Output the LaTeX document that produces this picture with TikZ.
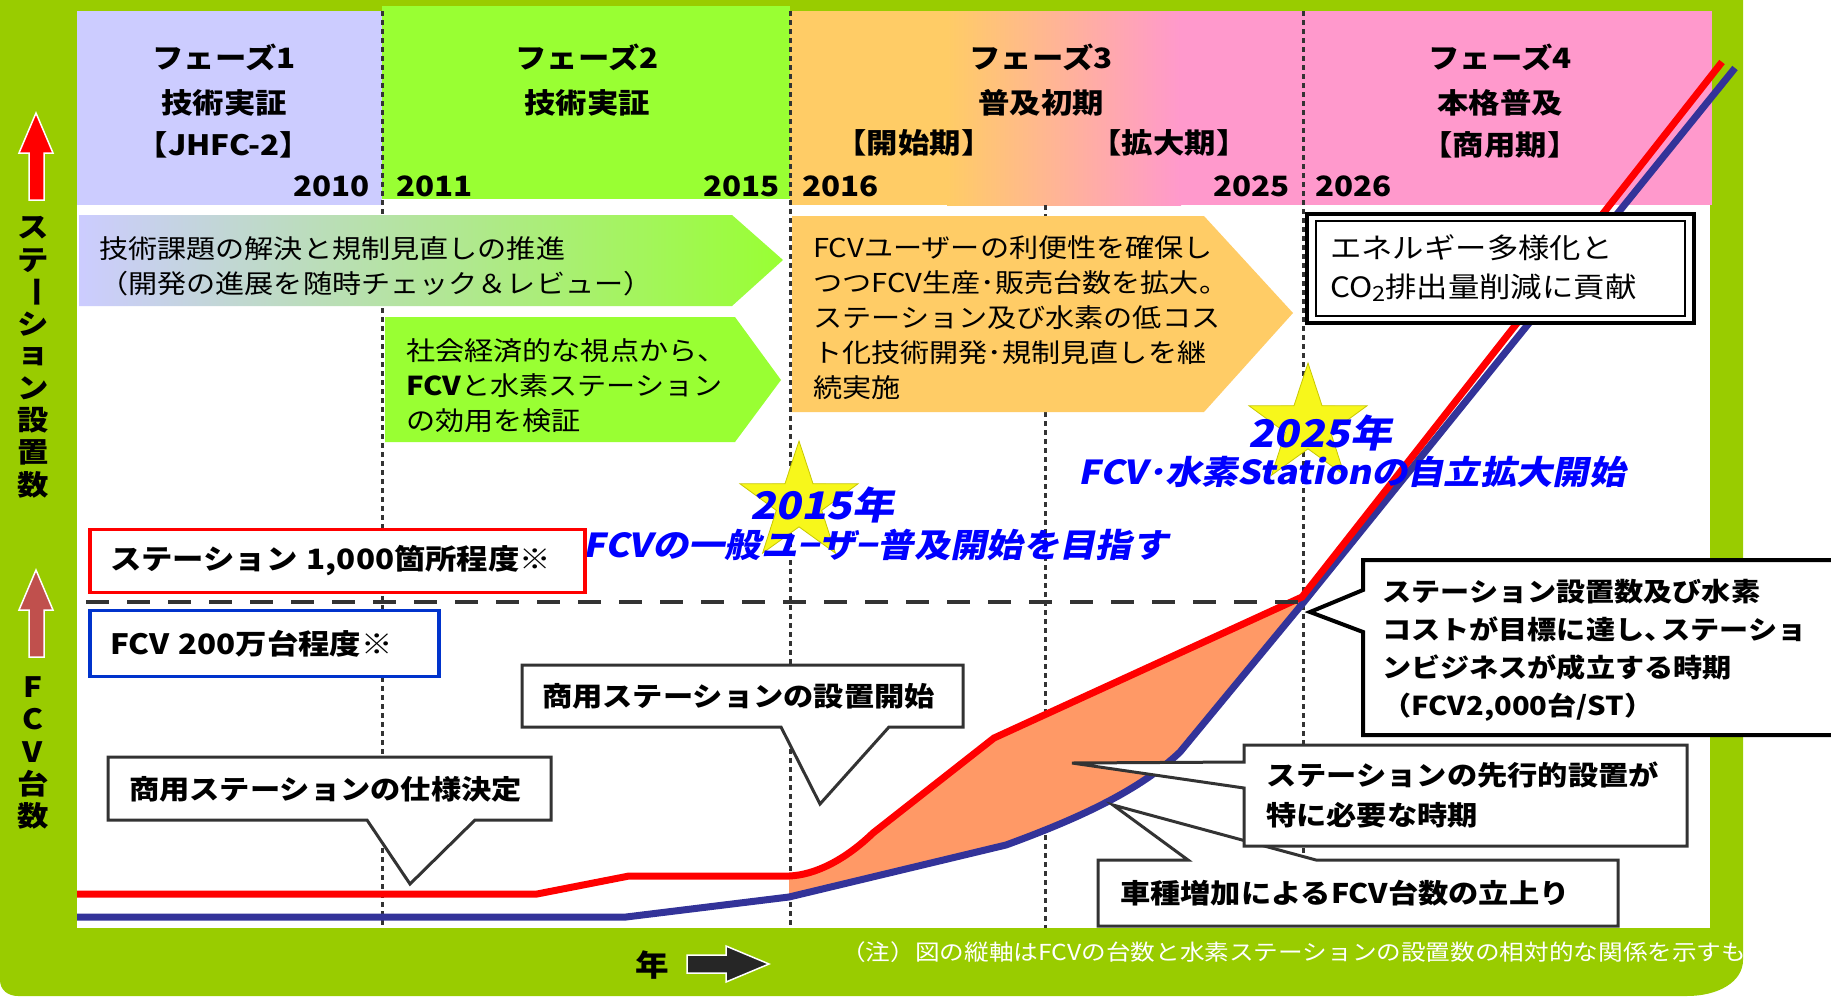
\documentclass[tikz,border=0pt]{standalone}
\usepackage{fontspec}
\usetikzlibrary{shapes.geometric}
\newfontfamily\jp[FakeStretch=1.12]{Noto Sans CJK JP}
\newfontfamily\jpi[FakeStretch=1.1,FakeSlant=0.2]{Noto Sans CJK JP}
\definecolor{bggreen}{HTML}{99CC00}
\definecolor{lav}{HTML}{CCCCFF}
\definecolor{lime}{HTML}{99FF33}
\definecolor{orng}{HTML}{FFCC66}
\definecolor{pnk}{HTML}{FF99CC}
\definecolor{dgray}{HTML}{333333}
\definecolor{fcvblue}{HTML}{333399}
\definecolor{fillor}{HTML}{FF9966}
\definecolor{txtblue}{HTML}{0000FF}
\definecolor{boxblue}{HTML}{0033CC}
\definecolor{brownred}{HTML}{C0504D}
\definecolor{stary}{HTML}{F7F71B}
\definecolor{staredge}{HTML}{C8C800}
\definecolor{arrowdark}{HTML}{262626}
\begin{document}
\begin{tikzpicture}[x=1pt,y=-1pt,line join=miter,
 hdr/.style={font=\jp\bfseries\fontsize{28}{34}\selectfont, inner sep=0pt},
 body/.style={font=\jp\fontsize{26}{35}\selectfont, align=left, inner sep=0pt, anchor=west},
 cbox/.style={draw=dgray, line width=3pt, fill=white},
 ctext/.style={font=\jp\bfseries\fontsize{27}{38}\selectfont, align=left, inner sep=0pt, anchor=west},
 bluet/.style={font=\jpi\bfseries\fontsize{33}{36}\selectfont, text=txtblue, inner sep=0pt},
 bigblue/.style={font=\jpi\bfseries\fontsize{38}{40}\selectfont, text=txtblue, inner sep=0pt},
 gridline/.style={draw=dgray, line width=3pt, dash pattern=on 5pt off 4pt},
 vlab/.style={font=\jp\bfseries\fontsize{28}{30}\selectfont, inner sep=0pt},
 starst/.style={star, star points=5, star point ratio=2.6, minimum size=124pt, inner sep=0pt, fill=stary, draw=staredge, line width=0.8pt},
 upar/.style={draw=white, line width=1.5pt},
 limitbox/.style={line width=3.5pt, fill=white, minimum height=63pt, align=left, inner xsep=20pt, font=\jp\bfseries\fontsize{28}{34}\selectfont},
]
\useasboundingbox (0,0) rectangle (1831,996);
% background
\fill[bggreen] (0,0) -- (1743,0) -- (1743,960) .. controls (1743,982) and (1718,996) .. (1687,996) -- (18,996) .. controls (8,996) and (0,990) .. (0,980) -- cycle;
\fill[white] (77,11) rectangle (1710,928);
% header bands
\fill[lav] (77,11) rectangle (382,205);
\fill[lime] (382,6) rectangle (790,199);
\fill[orng] (790,11) rectangle (948,205);
\shade[left color=orng, right color=pnk] (947,11) rectangle (1181,205);
\fill[pnk] (1180,11) rectangle (1712,205);
% header texts
\node[hdr] (p1a) at (224,57) {フェーズ1};
\node[hdr] (p1b) at (224,103) {技術実証};
\node[hdr] (p1c) at (224,145) {【JHFC-2】};
\node[hdr, anchor=east] (y2010) at (370,186) {2010};
\node[hdr, anchor=west] (y2011) at (396,186) {2011};
\node[hdr, anchor=east] (y2015) at (780,186) {2015};
\node[hdr] (p2a) at (587,57) {フェーズ2};
\node[hdr] (p2b) at (587,103) {技術実証};
\node[hdr] (p3a) at (1041,57) {フェーズ3};
\node[hdr] (p3b) at (1041,103) {普及初期};
\node[hdr] (p3c) at (914,143) {【開始期】};
\node[hdr] (p3d) at (1169,143) {【拡大期】};
\node[hdr, anchor=west] (y2016) at (802,186) {2016};
\node[hdr, anchor=east] (y2025) at (1290,186) {2025};
\node[hdr, anchor=west] (y2026) at (1315,186) {2026};
\node[hdr] (p4a) at (1500,57) {フェーズ4};
\node[hdr] (p4b) at (1500,103) {本格普及};
\node[hdr] (p4c) at (1500,145) {【商用期】};
% grid lines
\draw[gridline] (382,11) -- (382,928);
\draw[gridline] (790,11) -- (790,928);
\draw[gridline] (1045,205) -- (1045,928);
\draw[gridline] (1303,11) -- (1303,928);
% arrow boxes
\path[left color=lav, right color=lime] (79,215) -- (732,215) -- (783,260) -- (732,306) -- (79,306) -- cycle;
\node[body] (t1) at (99,266) {技術課題の解決と規制見直しの推進\\（開発の進展を随時チェック＆レビュー）};
\fill[lime] (385,317) -- (735,317) -- (781,380) -- (735,442) -- (385,442) -- cycle;
\node[body] (t2) at (406,386) {社会経済的な視点から、\\{\bfseries FCV}と水素ステーション\\の効用を検証};
\fill[orng] (792,216) -- (1204,216) -- (1293,313) -- (1204,412) -- (792,412) -- cycle;
\node[body] (t3) at (813,318) {FCVユーザーの利便性を確保し\\つつFCV生産･販売台数を拡大。\\ステーション及び水素の低コス\\ト化技術開発･規制見直しを継\\続実施};
% stars
\node[starst] (s1) at (799,503) {};
\node[starst] (s2) at (1308,425) {};
% curves
\fill[fillor] (789,876) .. controls (815,875) and (845,860) .. (873,833) -- (994,738) -- (1302,597) -- (1303,603) -- (1180,752) .. controls (1140,790) and (1080,818) .. (1006,845) -- (789,897) -- cycle;
\draw[fcvblue, line width=7pt] (77,917) -- (626,917) -- (789,897) -- (1006,845) .. controls (1080,818) and (1140,790) .. (1180,752) -- (1303,603) -- (1735,68);
\draw[red, line width=7pt] (77,894) -- (537,894) -- (629,876) -- (789,876) .. controls (815,875) and (845,860) .. (873,833) -- (994,738) -- (1302,597) -- (1722,62);
% double box
\draw[black, line width=4pt, fill=white] (1307,214) rectangle (1694,323);
\draw[black, line width=1.5pt] (1316,221) rectangle (1685,316);
\node[body, font=\jp\fontsize{28}{39}\selectfont] (t4) at (1330,268) {エネルギー多様化と\\CO\raisebox{-0.3ex}{\fontsize{21}{21}\selectfont 2}排出量削減に貢献};
% blue texts
\node[bigblue] (b1) at (822,505) {2015年};
\node[bluet] (b2) at (876,545) {FCVの一般ユ−ザ−普及開始を目指す};
\node[bigblue] (b3) at (1320,433) {2025年};
\node[bluet] (b4) at (1352,472) {FCV･水素Stationの自立拡大開始};
% target boxes
\node[limitbox, draw=red, minimum width=495pt, text width=455pt] (rb) at (337.5,561) {ステーション 1,000箇所程度※};
\draw[dgray, line width=4.5pt, dash pattern=on 23pt off 18pt] (86,602) -- (1298,602);
\node[limitbox, draw=boxblue, minimum width=349pt, minimum height=66pt, text width=309pt] (bb) at (264.5,643.5) {FCV 200万台程度※};
% callouts
\draw[cbox] (522,665) -- (963,665) -- (963,727) -- (889,727) -- (820,804) -- (781,727) -- (522,727) -- cycle;
\node[ctext] (c1) at (542,696) {商用ステーションの設置開始};
\draw[cbox] (108,757) -- (551,757) -- (551,820) -- (475,820) -- (410,884) -- (367,820) -- (108,820) -- cycle;
\node[ctext] (c2) at (129,789) {商用ステーションの仕様決定};
\draw[cbox, draw=black, line width=4pt] (1845,560) -- (1363,560) -- (1363,590) -- (1310,612) -- (1363,632) -- (1363,735) -- (1845,735);
\node[ctext, font=\jp\bfseries\fontsize{26}{38}\selectfont] (c3) at (1382,650) {ステーション設置数及び水素\\コストが目標に達し、\kern-0.45em ステーショ\\ンビジネスが成立する時期\\（FCV2,000台/ST）};
\draw[cbox] (1098,860) -- (1188,860) -- (1113,805) -- (1316,860) -- (1618,860) -- (1618,926) -- (1098,926) -- cycle;
\node[ctext] (c5) at (1120,893) {車種増加によるFCV台数の立上り};
\draw[cbox] (1244,745) -- (1687,745) -- (1687,846) -- (1244,846) -- (1244,788) -- (1072,763) -- (1244,762) -- cycle;
\node[ctext, font=\jp\bfseries\fontsize{27}{40}\selectfont] (c4) at (1266,795) {ステーションの先行的設置が\\特に必要な時期};
% left axis labels
\draw[upar, fill=red] (36,113) -- (53,153) -- (44,153) -- (44,200) -- (29,200) -- (29,153) -- (19,153) -- cycle;
\foreach \c [count=\i from 0] in {ス,テ,{\rotatebox[origin=c]{-90}{ー}},シ,ョ,ン,設,置,数}
  \node[vlab] (sv\i) at (33,228+32.1*\i) {\c};
\draw[upar, fill=brownred] (36,570) -- (53,610) -- (44,610) -- (44,657) -- (29,657) -- (29,610) -- (19,610) -- cycle;
\foreach \c [count=\i from 0] in {F,C,V,台,数}
  \node[vlab] (fv\i) at (33,687+32.3*\i) {\c};
% bottom
\node[vlab, font=\jp\bfseries\fontsize{30}{30}\selectfont] (nen) at (652,965) {年};
\draw[upar, fill=arrowdark] (687,955) -- (726,955) -- (726,946) -- (769,964) -- (726,982) -- (726,973) -- (687,973) -- cycle;
\begin{scope}
\clip (0,930) rectangle (1743,996);
\node[anchor=west, inner sep=0pt, text=white, font=\jp\fontsize{22}{24}\selectfont] (note) at (841,952) {（注）図の縦軸はFCVの台数と水素ステーションの設置数の相対的な関係を示すも};
\end{scope}
\end{tikzpicture}
\end{document}
